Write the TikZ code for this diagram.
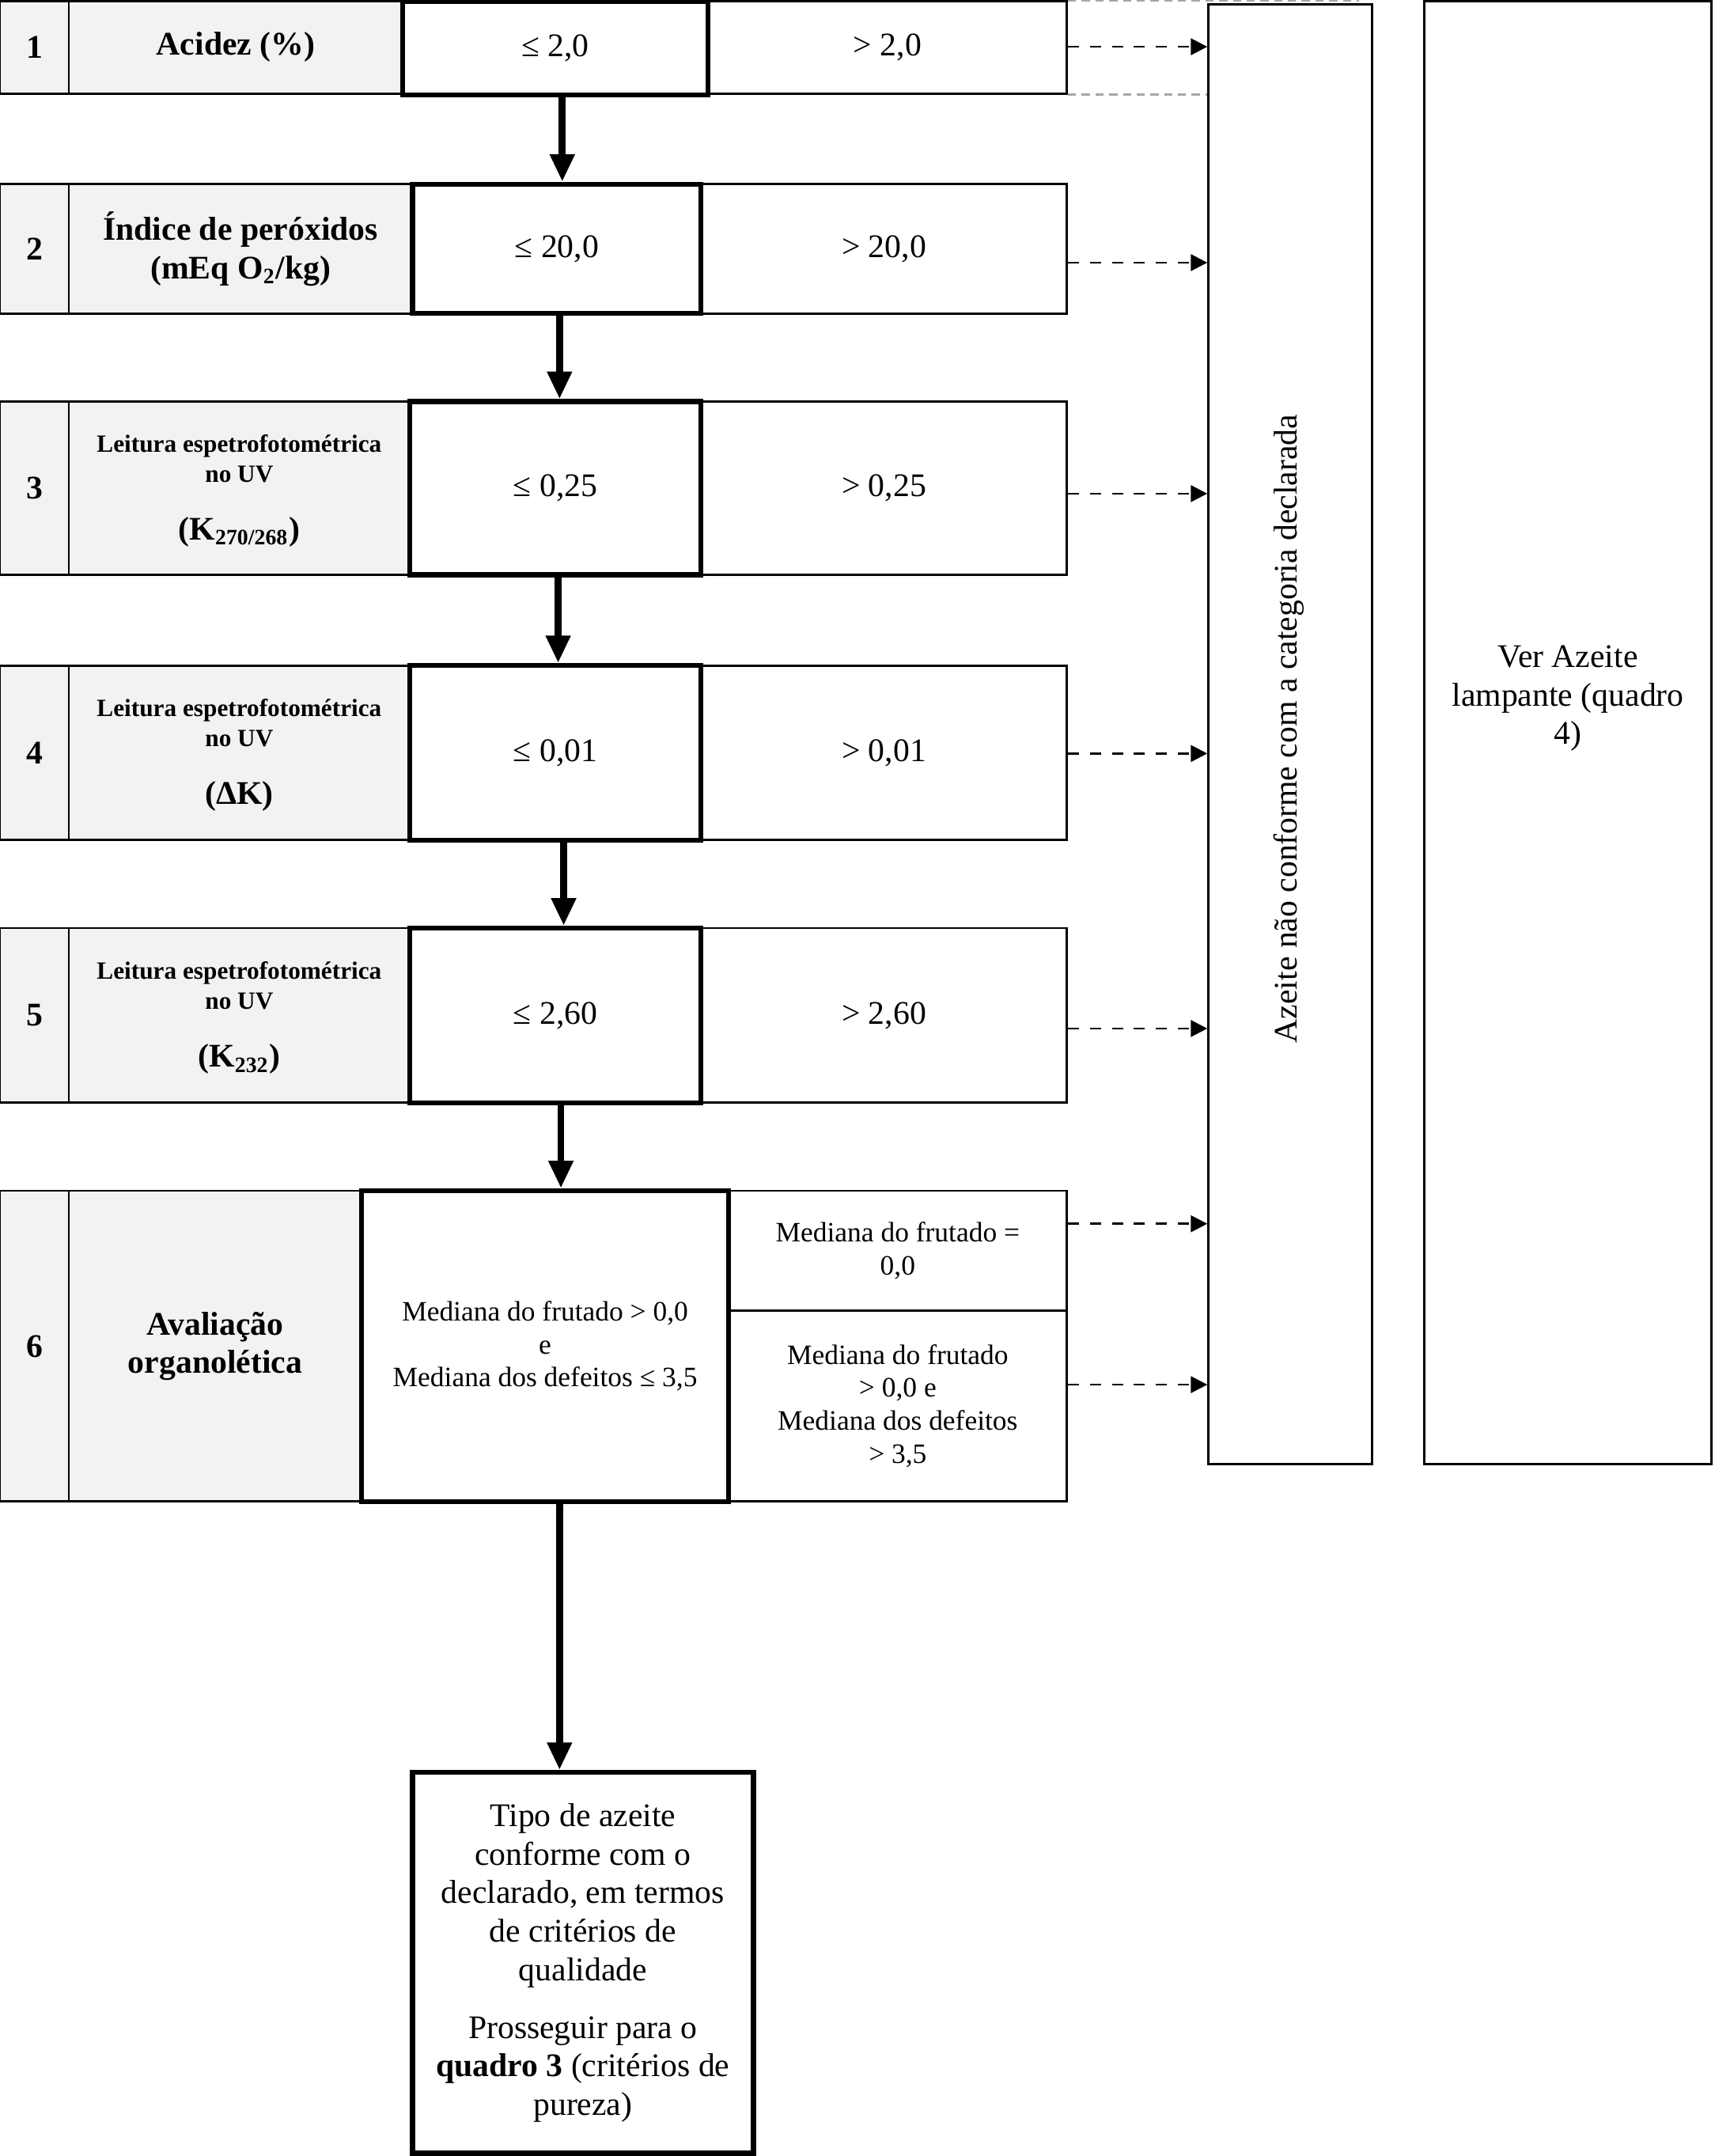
\documentclass[tikz,border=0pt]{standalone}
\usepackage{fontspec}
\setmainfont{Liberation Serif}
\usetikzlibrary{arrows.meta,calc}
\definecolor{lightgrey}{HTML}{F2F2F2}
\newcommand{\leiturabox}[1]{\begin{tabular}{@{}c@{}}\fontsize{9}{11}\selectfont\bfseries Leitura espetrofotométrica\\[-3pt]\fontsize{9}{11}\selectfont\bfseries no UV\\[7pt]\fontsize{12}{14}\selectfont\bfseries (#1)\end{tabular}}
% #1 style, #2 name, #3 x1, #4 y1, #5 x2, #6 y2, #7 text
\newcommand{\cellnode}[7]{%
  \pgfmathsetmacro{\cellcx}{(#3+#5)/2}%
  \pgfmathsetmacro{\cellcy}{(#4+#6)/2}%
  \pgfmathsetmacro{\cellw}{(#5-#3)*0.5}%
  \pgfmathsetmacro{\cellh}{(#6-#4)*0.5}%
  \node[#1, minimum width=\cellw pt, minimum height=\cellh pt] (#2) at (\cellcx,\cellcy) {#7};}
\begin{document}
\begin{tikzpicture}[x=0.5pt,y=-0.5pt,
  cell/.style={draw=black, line width=0.8pt, inner sep=0pt, align=center, font=\fontsize{12}{14}\selectfont},
  greycell/.style={cell, fill=lightgrey},
  boldface/.style={font=\bfseries\fontsize{12}{14}\selectfont},
  smalltxt/.style={font=\fontsize{10.2}{12}\selectfont},
  boldbox/.style={cell, line width=1.8pt},
  thickarr/.style={line width=2.5pt, -{Triangle[width=8.5pt,length=10pt]}},
  dasharr/.style={line width=0.8pt, dash pattern=on 4pt off 4pt, -{Triangle[width=6pt,length=6pt]}},
  ghost/.style={draw=black!35, line width=0.8pt, dash pattern=on 3pt off 2pt}
]
\useasboundingbox (0,0) rectangle (1247,1568);

% Row 1
\cellnode{greycell, boldface}{n1}{0}{1}{50}{68}{1}
\cellnode{greycell, boldface}{l1}{50}{1}{293}{68}{Acidez (\%)}
\cellnode{cell}{r1}{515}{1}{776}{68}{> 2,0}
\cellnode{boldbox}{v1}{293}{1}{515}{69}{≤ 2,0}

% Row 2
\cellnode{greycell, boldface}{n2}{0}{134}{50}{228}{2}
\cellnode{greycell, boldface}{l2}{50}{134}{300}{228}{Índice de peróxidos\\(mEq O\textsubscript{2}/kg)}
\cellnode{cell}{r2}{510}{134}{776}{228}{> 20,0}
\cellnode{boldbox}{v2}{300}{134}{510}{228}{≤ 20,0}

% Row 3
\cellnode{greycell, boldface}{n3}{0}{292}{50}{418}{3}
\cellnode{greycell}{l3}{50}{292}{298}{418}{\leiturabox{K\textsubscript{270/268}}}
\cellnode{cell}{r3}{510}{292}{776}{418}{> 0,25}
\cellnode{boldbox}{v3}{298}{292}{510}{418}{≤ 0,25}

% Row 4
\cellnode{greycell, boldface}{n4}{0}{484}{50}{611}{4}
\cellnode{greycell}{l4}{50}{484}{298}{611}{\leiturabox{ΔK}}
\cellnode{cell}{r4}{510}{484}{776}{611}{> 0,01}
\cellnode{boldbox}{v4}{298}{484}{510}{611}{≤ 0,01}

% Row 5
\cellnode{greycell, boldface}{n5}{0}{675}{50}{802}{5}
\cellnode{greycell}{l5}{50}{675}{298}{802}{\leiturabox{K\textsubscript{232}}}
\cellnode{cell}{r5}{510}{675}{776}{802}{> 2,60}
\cellnode{boldbox}{v5}{298}{675}{510}{802}{≤ 2,60}

% Row 6
\cellnode{greycell, boldface}{n6}{0}{866}{50}{1092}{6}
\cellnode{greycell, boldface}{l6}{50}{866}{263}{1092}{Avaliação\\organolética}
\cellnode{cell, smalltxt}{r6a}{530}{866}{776}{953}{Mediana do frutado =\\0,0}
\cellnode{cell, smalltxt}{r6b}{530}{953}{776}{1092}{Mediana do frutado\\> 0,0 e\\Mediana dos defeitos\\> 3,5}
\cellnode{boldbox, smalltxt}{v6}{263}{866}{530}{1092}{Mediana do frutado > 0,0\\e\\Mediana dos defeitos ≤ 3,5}

% Final box
\cellnode{boldbox}{fin}{300}{1289}{548}{1566}{Tipo de azeite\\conforme com o\\declarado, em termos\\de critérios de\\qualidade\\[7pt]Prosseguir para o\\\textbf{quadro 3} (critérios de\\pureza)}

% Tall boxes
\cellnode{cell}{na}{879}{3}{998}{1065}{}
\node[rotate=90, font=\fontsize{12}{14}\selectfont] (natext) at ($(na.center)+(-1,-4)$) {Azeite não conforme com a categoria declarada};
\cellnode{cell}{nb}{1036}{1}{1245}{1065}{}
\node[align=center, font=\fontsize{12}{14}\selectfont] (nbtext) at ($(nb.center)+(0,-25)$) {Ver Azeite\\lampante (quadro\\4)};

% ghost table borders
\draw[ghost] (r1.north east) -- ($(r1.north east -| na.east)+(-10,0)$);
\draw[ghost] (r1.south east) -- (r1.south east -| na.west);

% vertical arrows
\coordinate (a1) at (409,0);
\coordinate (a2) at (407,0);
\coordinate (a3) at (406,0);
\coordinate (a4) at (410,0);
\coordinate (a5) at (408,0);
\coordinate (a6) at (407,0);
\draw[thickarr] (v1.south -| a1) -- (v2.north -| a1);
\draw[thickarr] (v2.south -| a2) -- (v3.north -| a2);
\draw[thickarr] (v3.south -| a3) -- (v4.north -| a3);
\draw[thickarr] (v4.south -| a4) -- (v5.north -| a4);
\draw[thickarr] (v5.south -| a5) -- (v6.north -| a5);
\draw[thickarr] (v6.south -| a6) -- (fin.north -| a6);

% dashed arrows
\coordinate (d1) at (776,34);
\coordinate (d2) at (776,191);
\coordinate (d3) at (776,359);
\coordinate (d4) at (776,548);
\coordinate (d5) at (776,748);
\coordinate (d6) at (776,890);
\coordinate (d7) at (776,1007);
\draw[dasharr] (r1.east |- d1) -- (na.west |- d1);
\draw[dasharr] (r2.east |- d2) -- (na.west |- d2);
\draw[dasharr] (r3.east |- d3) -- (na.west |- d3);
\draw[dasharr] (r4.east |- d4) -- (na.west |- d4);
\draw[dasharr] (r5.east |- d5) -- (na.west |- d5);
\draw[dasharr] (r6a.east |- d6) -- (na.west |- d6);
\draw[dasharr] (r6b.east |- d7) -- (na.west |- d7);
\end{tikzpicture}
\end{document}
